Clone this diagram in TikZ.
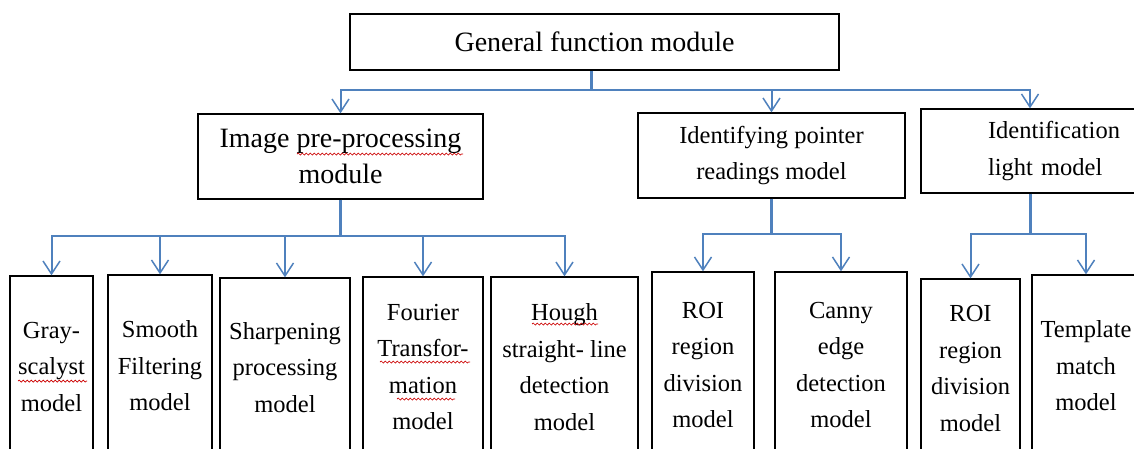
\documentclass[tikz,border=0pt]{standalone}
\usepackage{fontspec}
\setmainfont{Liberation Serif}
\usetikzlibrary{arrows.meta,decorations.pathmorphing}

\definecolor{linkblue}{RGB}{79,129,189}

\begin{document}
\begin{tikzpicture}[x=1pt,y=-1pt]
\tikzstyle{every node}=[inner sep=0pt, align=center]
\tikzstyle{box}=[draw, line width=1.3pt, rectangle, font=\fontsize{24.5}{36.5}\selectfont]
\tikzstyle{bigbox}=[box, font=\fontsize{28}{36}\selectfont]
\tikzstyle{stem}=[draw=linkblue, line width=3pt]
\tikzstyle{arr}=[draw=linkblue, line width=2pt, -{Straight Barb[length=13pt,width=17pt,line width=1.5pt]}]
\tikzstyle{squig}=[draw=red!80!black, line width=0.7pt, decorate, decoration={snake, amplitude=1pt, segment length=4pt}]
\path[use as bounding box, clip] (0,0) rectangle (1134,448);
\fill[white] (0,0) rectangle (1134,448);

% top levels
\draw (594.5,42) node (gen) [bigbox, minimum width=489pt, minimum height=56pt] {General function module};
\draw (340.5,156.5) node (img) [bigbox, minimum width=285pt, minimum height=85pt] {Image pre-processing\\module};
\draw (771.5,155.5) node (ptr) [box, minimum width=267pt, minimum height=85pt] {Identifying pointer\\readings model};
\draw (1055,151) node (idl) [box, minimum width=268pt, minimum height=84pt, text width=134pt, align=left] {Identification\\light model};

% bottom row
\draw (51.5,366.5) node (gray) [box, minimum width=83pt, minimum height=181pt] {Gray-\\scalyst\\model};
\draw (160,366) node (smooth) [box, minimum width=104pt, minimum height=182pt] {Smooth\\Filtering\\model};
\draw (285,367.5) node (sharp) [box, minimum width=130pt, minimum height=179pt] {Sharpening\\processing\\model};
\draw (423,367) node (four) [box, minimum width=120pt, minimum height=180pt] {Fourier\\Transfor-\\mation\\model};
\draw (564.5,367) node (hough) [box, minimum width=147pt, minimum height=180pt] {Hough\\straight- line\\detection\\model};
\draw (703,365) node (roia) [box, minimum width=102pt, minimum height=186pt] {ROI\\region\\division\\model};
\draw (841,365) node (canny) [box, minimum width=132pt, minimum height=186pt] {Canny\\edge\\detection\\model};
\draw (970.5,368.5) node (roib) [box, minimum width=99pt, minimum height=179pt] {ROI\\region\\division\\model};
\draw (1086,366) node (tmpl) [box, minimum width=108pt, minimum height=182pt] {Template\\match\\model};

% connectors
\coordinate (jtop) at (591,90);
\draw[stem] (gen.south -| jtop) -- (jtop);
\draw[arr] (jtop) -| (img.north);
\draw[arr] (jtop) -| (ptr.north);
\draw[arr] (jtop) -| ([xshift=-25pt]idl.north);

\coordinate (jimg) at (img.south |- 0,236);
\draw[stem] (img.south) -- (jimg);
\foreach \n in {gray,smooth,sharp,four,hough}
  \draw[arr] (jimg) -| (\n.north);

\coordinate (jptr) at (ptr.south |- 0,234);
\draw[stem] (ptr.south) -- (jptr);
\foreach \n in {roia,canny}
  \draw[arr] (jptr) -| (\n.north);

\coordinate (jidl) at ([xshift=-25pt]idl.south |- 0,234);
\draw[stem] ([xshift=-25pt]idl.south) -- (jidl);
\foreach \n in {roib,tmpl}
  \draw[arr] (jidl) -| (\n.north);

% spelling marks
\draw[squig] (297,154) -- (463,154);
\draw[squig] (18,381) -- (87,381);
\draw[squig] (380,362) -- (470,362);
\draw[squig] (397,399) -- (455,399);
\draw[squig] (532,324) -- (598,324);
\end{tikzpicture}
\end{document}
